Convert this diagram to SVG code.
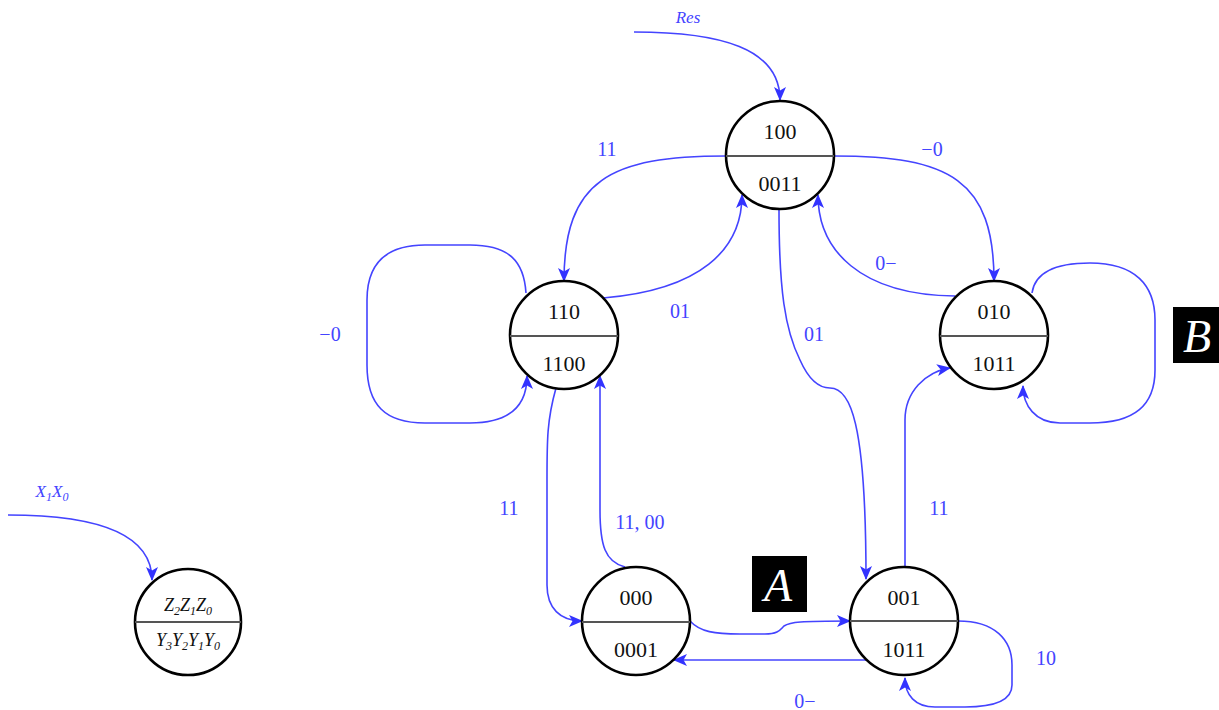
<svg xmlns="http://www.w3.org/2000/svg" width="1219" height="710" viewBox="0 0 1219 710">
<style>
.node circle{fill:#fff;stroke:#000;stroke-width:2.6}
.node line{stroke:#555;stroke-width:2}
.nt{font-family:"Liberation Serif",serif;font-size:22px;fill:#111;text-anchor:middle}
.lt{font-family:"Liberation Serif",serif;font-style:italic;font-size:18px;fill:#111;text-anchor:middle}
.e{fill:none;stroke:#4444ff;stroke-width:1.6;marker-end:url(#ah)}
.lab{font-family:"Liberation Serif",serif;font-size:20px;fill:#4444ff;text-anchor:middle}
.ilab{font-family:"Liberation Serif",serif;font-style:italic;font-size:17px;fill:#4444ff;text-anchor:middle}
.box{fill:#000}
.bl{font-family:"Liberation Serif",serif;font-style:italic;font-size:46px;fill:#fff;text-anchor:middle}
</style>
<defs>
<marker id="ah" markerWidth="14" markerHeight="12" refX="13" refY="6" orient="auto" markerUnits="userSpaceOnUse">
<path d="M0,0 L14,6 L0,12 L3.5,6 z" fill="#3333ff"/>
</marker>
</defs>
<rect width="1219" height="710" fill="#fff"/>
<g id="connectors">
<path class="e" d="M634,32 C720,32 780,48 780,100"/>
<path class="e" d="M8,515 C100,515 152,535 152,580"/>
<path class="e" d="M726,156 C610,156 564,180 564,281"/>
<path class="e" d="M834,156 C950,156 994,180 994,281"/>
<path class="e" d="M603,298 C700,290 742,250 742,195"/>
<path class="e" d="M955,296 C860,295 818,250 818,195"/>
<path class="e" d="M779,210 C779,290 785,330 800,360 C808,378 818,388 830,388 C850,388 866,420 866,579"/>
<path class="e" d="M526,293 C524,262 510,245 470,245 L425,245 C385,245 367,265 367,300 L367,365 C367,405 385,423 425,423 L470,423 C510,423 527,405 527,376"/>
<path class="e" d="M1032,293 C1035,272 1055,263 1090,263 C1135,263 1155,285 1155,320 L1155,370 C1155,405 1135,423 1090,423 L1060,423 C1035,423 1023,405 1023,386"/>
<path class="e" d="M556,388 C547,420 547,440 547,480 L547,585 C547,608 560,621 582,621"/>
<path class="e" d="M625,567 C605,562 600,545 600,510 L600,376"/>
<path class="e" d="M905,567 L905,420 C905,392 925,372 950,368"/>
<path class="e" d="M690,621 C700,632 715,634 740,634 L765,634 C778,634 780,630 784,626 C790,622 800,621 850,621"/>
<path class="e" d="M867,660 L674,660"/>
<path class="e" d="M958,621 C995,621 1012,640 1012,665 L1012,685 C1012,700 995,707 965,707 L935,707 C915,707 905,695 905,678"/>
</g>
<g id="labels">
<text class="ilab" x="688" y="23">Res</text>
<text class="ilab" x="52" y="497">X<tspan font-size="12" dy="4">1</tspan><tspan dy="-4">X</tspan><tspan font-size="12" dy="4">0</tspan></text>
<text class="lab" x="607" y="156">11</text>
<text class="lab" x="932" y="156">−0</text>
<text class="lab" x="680" y="318">01</text>
<text class="lab" x="886" y="270">0−</text>
<text class="lab" x="330" y="341">−0</text>
<text class="lab" x="814" y="341">01</text>
<text class="lab" x="509" y="515">11</text>
<text class="lab" x="640" y="529">11, 00</text>
<text class="lab" x="939" y="515">11</text>
<text class="lab" x="1046" y="665">10</text>
<text class="lab" x="805" y="708">0−</text>
</g>
<g id="node-legend" class="node">
<circle cx="188" cy="622" r="53"/>
<line x1="135" y1="622" x2="241" y2="622"/>
<text class="lt" x="188" y="611">Z<tspan font-size="12" dy="4">2</tspan><tspan dy="-4">Z</tspan><tspan font-size="12" dy="4">1</tspan><tspan dy="-4">Z</tspan><tspan font-size="12" dy="4">0</tspan></text>
<text class="lt" x="188" y="646">Y<tspan font-size="12" dy="4">3</tspan><tspan dy="-4">Y</tspan><tspan font-size="12" dy="4">2</tspan><tspan dy="-4">Y</tspan><tspan font-size="12" dy="4">1</tspan><tspan dy="-4">Y</tspan><tspan font-size="12" dy="4">0</tspan></text>
</g>
<g id="node-100" class="node">
<circle cx="780" cy="155" r="54"/>
<line x1="726" y1="156" x2="834" y2="156"/>
<text class="nt" x="780" y="139">100</text>
<text class="nt" x="780" y="191">0011</text>
</g>
<g id="node-110" class="node">
<circle cx="564" cy="335" r="54"/>
<line x1="510" y1="336" x2="618" y2="336"/>
<text class="nt" x="564" y="319">110</text>
<text class="nt" x="564" y="371">1100</text>
</g>
<g id="node-010" class="node">
<circle cx="994" cy="335" r="54"/>
<line x1="940" y1="336" x2="1048" y2="336"/>
<text class="nt" x="994" y="319">010</text>
<text class="nt" x="994" y="371">1011</text>
</g>
<g id="node-000" class="node">
<circle cx="636" cy="621" r="54"/>
<line x1="582" y1="622" x2="690" y2="622"/>
<text class="nt" x="636" y="605">000</text>
<text class="nt" x="636" y="657">0001</text>
</g>
<g id="node-001" class="node">
<circle cx="904" cy="621" r="54"/>
<line x1="850" y1="621" x2="958" y2="621"/>
<text class="nt" x="904" y="605">001</text>
<text class="nt" x="904" y="657">1011</text>
</g>
<g id="box-A">
<rect class="box" x="752" y="556" width="55" height="56"/>
<text class="bl" x="778" y="601">A</text>
</g>
<g id="box-B">
<rect class="box" x="1173" y="307" width="46" height="56"/>
<text class="bl" x="1197" y="352">B</text>
</g>
</svg>
